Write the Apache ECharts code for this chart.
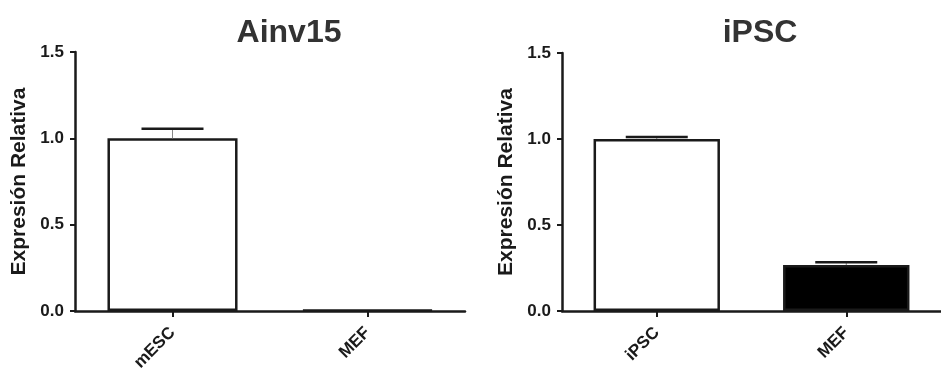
<!DOCTYPE html>
<html>
<head>
<meta charset="utf-8">
<script src="https://cdn.jsdelivr.net/npm/echarts@6/dist/echarts.min.js"></script>
<style>
html, body { margin: 0; padding: 0; background: #fff; }
#chart { width: 941px; height: 376px; }
</style>
</head>
<body>
<div id="chart"></div>
<script>
// datos
var titles = ['Ainv15', 'iPSC'];
var catsA = ['mESC', 'MEF'];
var catsB = ['iPSC', 'MEF'];
var meanA = [1.0, 0.005];
var errA = [0.055, 0];
var meanB = [1.0, 0.267];
var errB = [0.012, 0.016];
var fillA = ['#ffffff', '#ffffff'];
var fillB = ['#ffffff', '#000000'];

var font = '"Liberation Sans", Arial, sans-serif';
var ink = '#1a1a1a';

function errBar(params, api) {
	var x = api.value(0), y = api.value(1), e = api.value(2);
	if (!e) return null;
	var base = api.coord([x, y]);
	var top = api.coord([x, y + e]);
	var half = 31;
	return {
		type: 'group',
		children: [{
			type: 'line',
			shape: { x1: base[0], y1: base[1], x2: top[0], y2: top[1] },
			style: { stroke: '#888', lineWidth: 1 }
		}, {
			type: 'line',
			shape: { x1: top[0] - half, y1: top[1], x2: top[0] + half, y2: top[1] },
			style: { stroke: ink, lineWidth: 2.5 }
		}]
	};
}

function yAxisOf(idx) {
	return {
		type: 'value',
		gridIndex: idx,
		min: 0, max: 1.5, interval: 0.5,
		name: 'Expresión Relativa',
		nameLocation: 'middle',
		nameGap: 45,
		nameTextStyle: { fontFamily: font, fontWeight: 'bold', fontSize: 21, color: ink },
		axisLine: { show: true, lineStyle: { color: ink, width: 2.5 } },
		axisTick: { show: true, length: 5, lineStyle: { color: ink, width: 2 } },
		splitLine: { show: false },
		axisLabel: {
			margin: 11,
			fontFamily: font, fontWeight: 'bold', fontSize: 17, color: ink,
			formatter: function(v) { return v.toFixed(1); }
		}
	};
}

function xAxisOf(idx, cats) {
	return {
		type: 'category',
		gridIndex: idx,
		data: cats,
		axisLine: { lineStyle: { color: ink, width: 2.5 } },
		axisTick: { show: true, alignWithLabel: true, length: 6, lineStyle: { color: ink, width: 2 } },
		axisLabel: {
			rotate: 45, margin: 19, interval: 0,
			fontFamily: font, fontWeight: 'bold', fontSize: 17, color: ink
		}
	};
}

function barData(vals, fills) {
	return vals.map(function(v, i) {
		return { value: v, itemStyle: { color: fills[i] } };
	});
}

function errData(vals, errs) {
	return vals.map(function(v, i) { return [i, v, errs[i]]; });
}

var option = {
	backgroundColor: '#fff',
	animation: false,
	title: [{
		text: titles[0], left: 284, top: 12, textAlign: 'center',
		textStyle: { fontFamily: font, fontWeight: 'bold', fontSize: 32, color: '#333' }
	}, {
		text: titles[1], left: 755, top: 12, textAlign: 'center',
		textStyle: { fontFamily: font, fontWeight: 'bold', fontSize: 32, color: '#333' }
	}],
	grid: [
		{ left: 75, right: 476, top: 52, bottom: 65 },
		{ left: 562, right: -13, top: 53, bottom: 65 }
	],
	xAxis: [xAxisOf(0, catsA), xAxisOf(1, catsB)],
	yAxis: [yAxisOf(0), yAxisOf(1)],
	series: [{
		type: 'bar', xAxisIndex: 0, yAxisIndex: 0,
		barWidth: '66.7%',
		itemStyle: { borderColor: ink, borderWidth: 2.5 },
		data: barData(meanA, fillA)
	}, {
		type: 'custom', xAxisIndex: 0, yAxisIndex: 0,
		renderItem: errBar, z: 3,
		data: errData(meanA, errA)
	}, {
		type: 'bar', xAxisIndex: 1, yAxisIndex: 1,
		barWidth: '66.7%',
		itemStyle: { borderColor: ink, borderWidth: 2.5 },
		data: barData(meanB, fillB)
	}, {
		type: 'custom', xAxisIndex: 1, yAxisIndex: 1,
		renderItem: errBar, z: 3,
		data: errData(meanB, errB)
	}]
};

var chart = echarts.init(document.getElementById('chart'));
chart.setOption(option);
</script>
</body>
</html>
